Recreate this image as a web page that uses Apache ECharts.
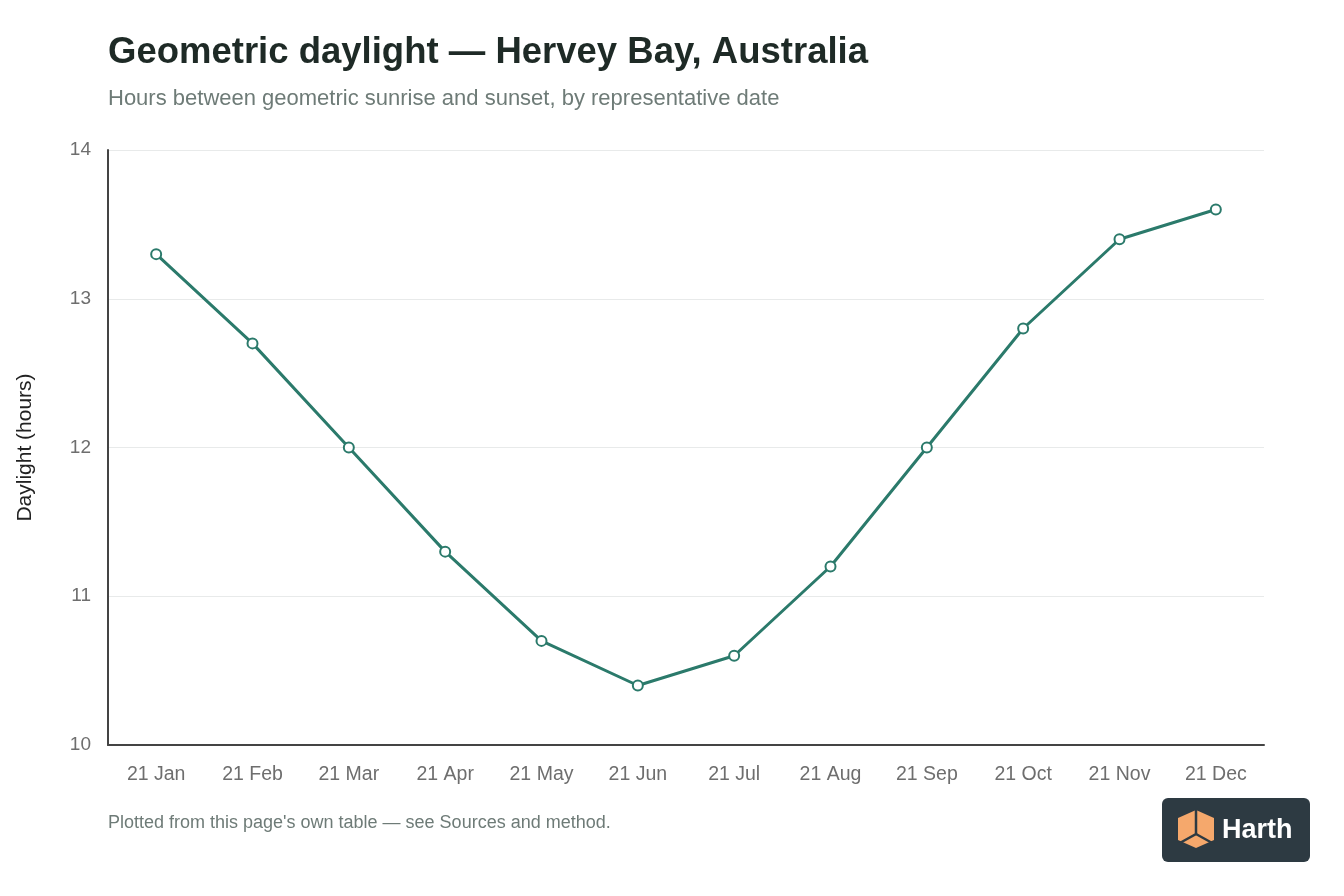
<!DOCTYPE html>
<html>
<head>
<meta charset="utf-8">
<script src="https://cdn.jsdelivr.net/npm/echarts@6/dist/echarts.min.js"></script>
<style>
  html, body { margin: 0; padding: 0; background: #fff; }
  #chart { width: 1344px; height: 896px; }
</style>
</head>
<body>
<div id="chart"></div>
<script>
'use strict';

var dates = ['21 Jan', '21 Feb', '21 Mar', '21 Apr', '21 May', '21 Jun',
             '21 Jul', '21 Aug', '21 Sep', '21 Oct', '21 Nov', '21 Dec'];
var daylight = [13.3, 12.7, 12.0, 11.3, 10.7, 10.4, 10.6, 11.2, 12.0, 12.8, 13.4, 13.6];
var yTicks = [10, 11, 12, 13, 14];

var fontFam = '"Liberation Sans", Arial, Helvetica, sans-serif';
var lineColor = '#2b7a6b';

var chart = echarts.init(document.getElementById('chart'));
chart.setOption({
    backgroundColor: '#ffffff',
    textStyle: { fontFamily: fontFam },
    title: [
        {
            text: 'Geometric daylight — Hervey Bay, Australia',
            left: 103, top: 29,
            textStyle: { fontSize: 36.5, fontWeight: 'bold', color: '#1e2a26', fontFamily: fontFam }
        },
        {
            text: 'Hours between geometric sunrise and sunset, by representative date',
            left: 103, top: 83,
            textStyle: { fontSize: 22, fontWeight: 'normal', color: '#6e7b77', fontFamily: fontFam }
        },
        {
            text: "Plotted from this page's own table — see Sources and method.",
            left: 103, top: 809,
            textStyle: { fontSize: 18, fontWeight: 'normal', color: '#6e7b77', fontFamily: fontFam }
        }
    ],
    grid: { left: 108, right: 80, top: 150, bottom: 151 },
    xAxis: {
        type: 'category',
        data: dates,
        boundaryGap: true,
        axisLine: { lineStyle: { color: '#444', width: 2 } },
        axisTick: { show: false },
        axisLabel: { color: '#6e6e6e', fontSize: 19.5, margin: 20, fontFamily: fontFam },
        splitLine: { show: false }
    },
    yAxis: {
        type: 'value',
        min: yTicks[0],
        max: yTicks[yTicks.length - 1],
        interval: 1,
        name: 'Daylight (hours)',
        nameLocation: 'middle',
        nameGap: 72,
        nameTextStyle: { color: '#222', fontSize: 21, fontFamily: fontFam },
        axisLine: { show: true, lineStyle: { color: '#444', width: 2 } },
        axisTick: { show: false },
        axisLabel: { color: '#6e6e6e', fontSize: 19, margin: 17, fontFamily: fontFam },
        splitLine: { lineStyle: { color: '#e8eaea', width: 1 } }
    },
    series: [
        {
            type: 'line',
            data: daylight,
            symbol: 'circle',
            symbolSize: 10,
            lineStyle: { color: lineColor, width: 3 },
            itemStyle: { color: '#ffffff', borderColor: lineColor, borderWidth: 2 },
            z: 3
        }
    ],
    graphic: [
        {
            type: 'group',
            left: 1162, top: 798,
            children: [
                {
                    type: 'rect',
                    shape: { x: 0, y: 0, width: 148, height: 64, r: 6 },
                    style: { fill: '#2d3a42' }
                },
                {
                    type: 'polygon',
                    shape: { points: [[34, 12], [52, 20], [52, 42], [34, 50], [16, 42], [16, 20]] },
                    style: { fill: '#f5a86c' }
                },
                {
                    type: 'polyline',
                    shape: { points: [[34, 12], [34, 36], [16, 46]] },
                    style: { stroke: '#2d3a42', lineWidth: 2.5, fill: null }
                },
                {
                    type: 'polyline',
                    shape: { points: [[34, 36], [52, 46]] },
                    style: { stroke: '#2d3a42', lineWidth: 2.5, fill: null }
                },
                {
                    type: 'text',
                    x: 60, y: 33,
                    style: {
                        text: 'Harth',
                        fill: '#ffffff',
                        font: 'bold 27px ' + fontFam,
                        textVerticalAlign: 'middle',
                        verticalAlign: 'middle'
                    }
                }
            ]
        }
    ]
});
</script>
</body>
</html>
